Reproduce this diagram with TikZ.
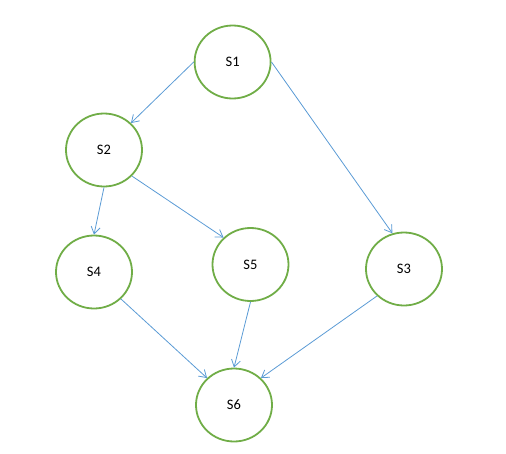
\documentclass[tikz,border=0pt]{standalone}
\usepackage{fontspec}
\setmainfont{Carlito}
\usetikzlibrary{shapes.geometric,arrows.meta}
\definecolor{stgreen}{RGB}{112,173,71}
\definecolor{stblue}{RGB}{91,155,213}
\begin{document}
\begin{tikzpicture}[x=1pt,y=-1pt,
  state/.style={ellipse,draw=stgreen,line width=1.8pt,inner sep=0pt,
    minimum width=76pt,minimum height=73pt,font=\fontsize{14.5}{16}\selectfont},
  conn/.style={draw=stblue,line width=0.8pt,-{Straight Barb[length=7pt,width=9pt]}}]
\useasboundingbox (0,0) rectangle (506,453);
\node[state] (s1) at (232.6,62) {S1};
\node[state] (s2) at (104,150) {S2};
\node[state] (s4) at (94,272) {S4};
\node[state] (s5) at (250.5,264.5) {S5};
\node[state] (s3) at (404,269) {S3};
\node[state] (s6) at (234,405) {S6};
\draw[conn] (s1.west) -- (s2.45);
\draw[conn] (s1.east) -- (s3.108);
\draw[conn] (s2.south) -- (s4.north);
\draw[conn] (s2.-43) -- (s5.135);
\draw[conn] (s4.-45) -- (s6.135);
\draw[conn] (s5.south) -- (s6.north);
\draw[conn] (s3.-135) -- (s6.45);
\end{tikzpicture}
\end{document}
